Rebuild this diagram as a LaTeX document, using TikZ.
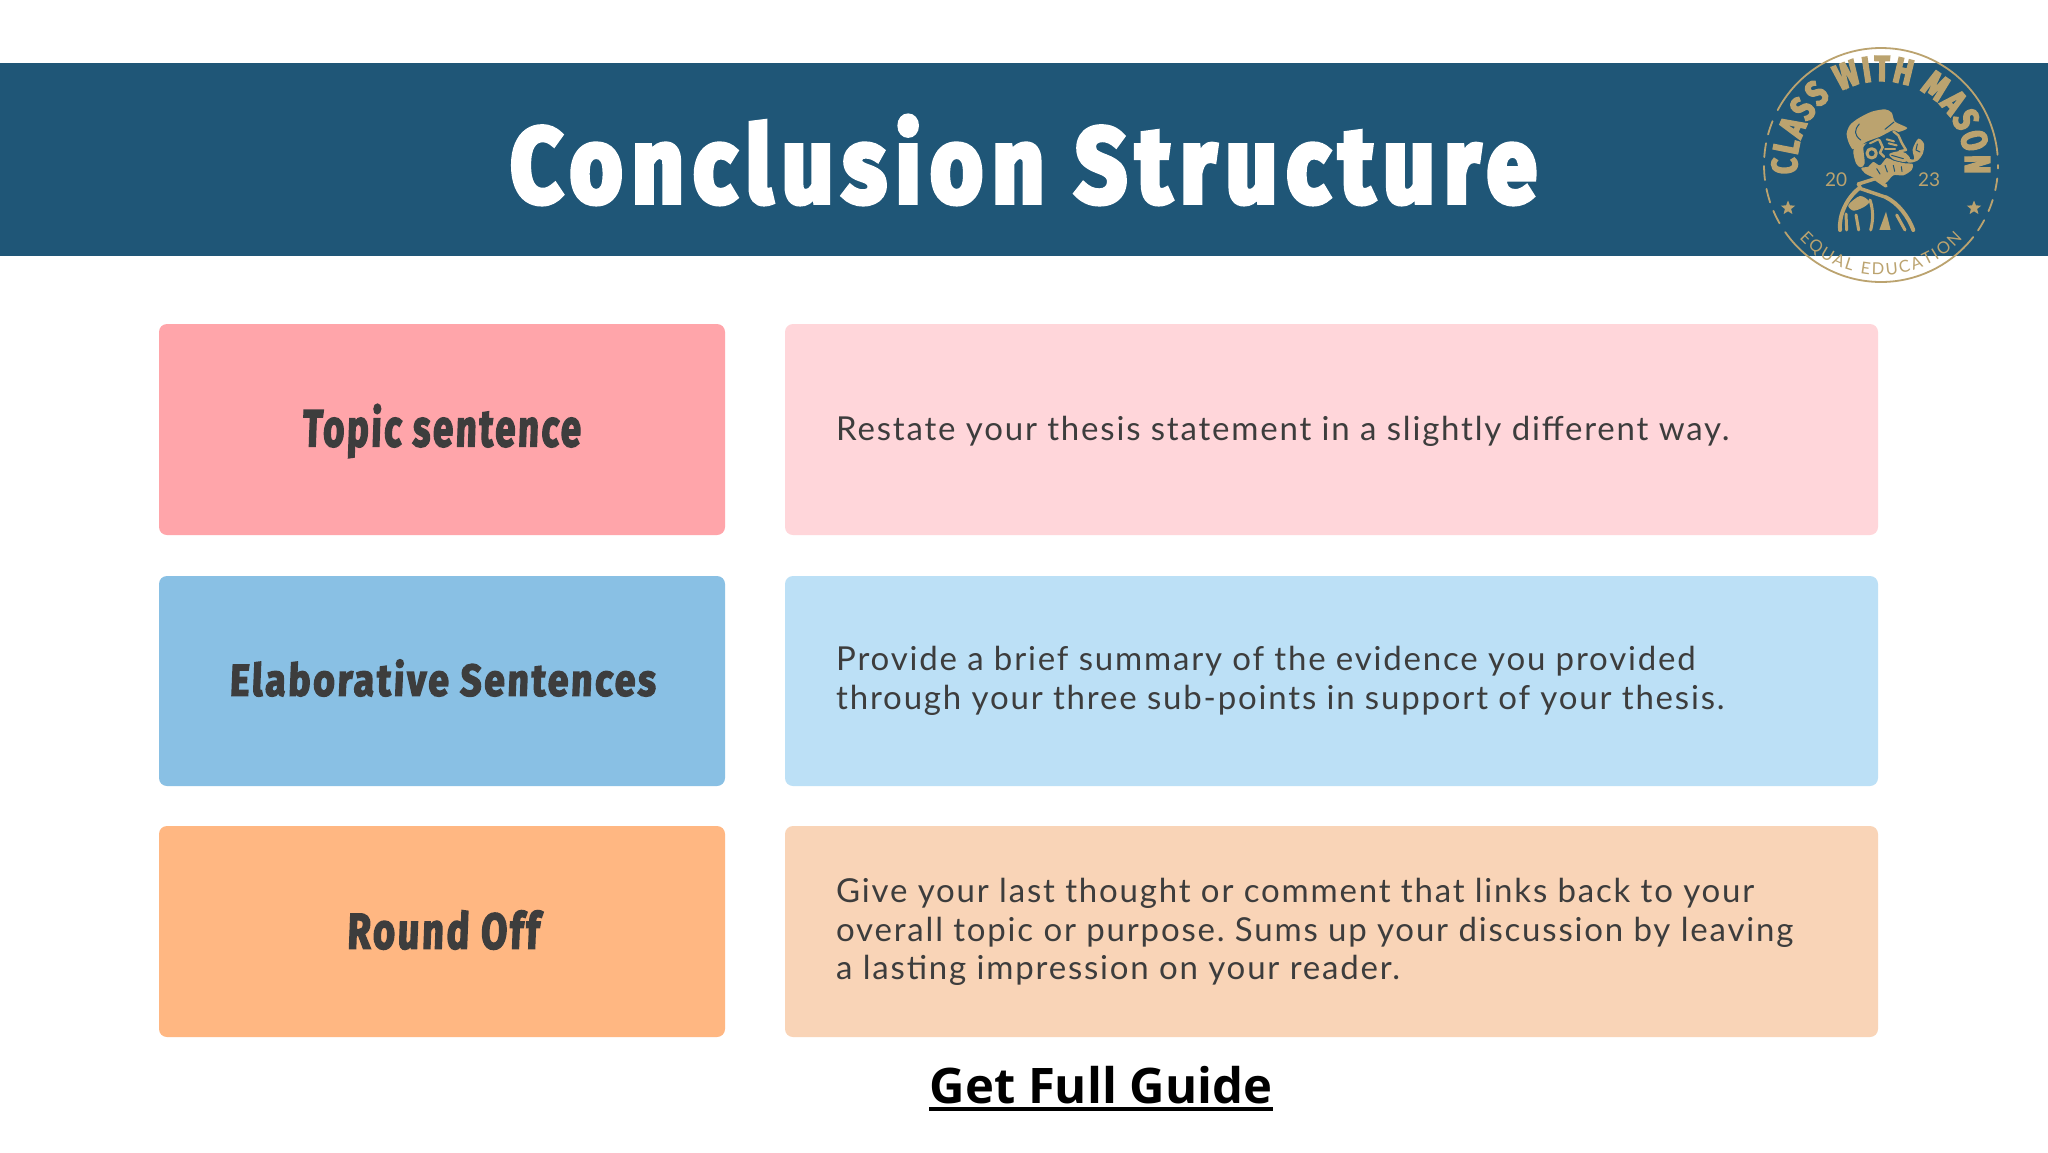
\documentclass[tikz,border=0pt]{standalone}
\usepackage{fontspec}
\usetikzlibrary{decorations.text,shapes.geometric}
\newfontfamily\bodyfont[LetterSpace=5.5]{Lato}
\newfontfamily\chunkyfont[FakeBold=3.5,FakeSlant=0.05,LetterSpace=7]{Fira Sans Bold}
\newfontfamily\titlefont[FakeBold=5,LetterSpace=10]{Fira Sans Bold}
\newfontfamily\guidefont{Open Sans Bold}
\newfontfamily\logofont[FakeBold=4,FakeStretch=0.78]{Fira Sans Bold}
\newfontfamily\logothin{Lato}
\definecolor{banner}{HTML}{1F5677}
\definecolor{gold}{HTML}{BBA36F}
\definecolor{inkdark}{HTML}{3D3D3D}
\definecolor{pinkA}{HTML}{FFA5AA}
\definecolor{pinkB}{HTML}{FFD6DA}
\definecolor{blueA}{HTML}{89C0E4}
\definecolor{blueB}{HTML}{BCE0F6}
\definecolor{orangeA}{HTML}{FFB782}
\definecolor{orangeB}{HTML}{F9D4B7}
\tikzset{
  card/.style={anchor=north west,rounded corners=8pt,inner sep=0pt,outer sep=0pt,draw=none},
  labeltext/.style={inner sep=0pt,text=inkdark},
  bodytext/.style={inner sep=0pt,anchor=west,align=left,text=inkdark,font=\bodyfont\fontsize{33}{38.5}\selectfont\frenchspacing},
  goldline/.style={draw=gold,line width=1.8pt,line cap=round},
  manfill/.style={fill=gold,draw=none},
  manline/.style={draw=gold,line width=1.3pt,line cap=round,line join=round},
  mancut/.style={draw=banner,line width=1pt,line cap=round,line join=round}
}
\begin{document}
\begin{tikzpicture}[x=1pt,y=-1pt]
\useasboundingbox (0,0) rectangle (2048,1152);
\fill[white] (0,0) rectangle (2048,1152);
\node[anchor=north west,fill=banner,minimum width=2048pt,minimum height=193pt,inner sep=0pt,outer sep=0pt] (bar) at (0,63) {};
\node[text=white,inner sep=0pt] (title) at (1023.5,160) {\resizebox{1026pt}{86pt}{\titlefont Conclusion Structure}};

\node[card,fill=pinkA,minimum width=566pt,minimum height=211pt] (boxA) at (159,324) {};
\node[card,fill=blueA,minimum width=566pt,minimum height=210pt] (boxB) at (159,576) {};
\node[card,fill=orangeA,minimum width=566pt,minimum height=211pt] (boxC) at (159,826) {};
\node[card,fill=pinkB,minimum width=1093pt,minimum height=211pt] (descA) at (785,324) {};
\node[card,fill=blueB,minimum width=1093pt,minimum height=210pt] (descB) at (785,576) {};
\node[card,fill=orangeB,minimum width=1093pt,minimum height=211pt] (descC) at (785,826) {};

\node[labeltext] (labA) at (441.5,431) {\resizebox{278pt}{42pt}{\chunkyfont Topic sentence}};
\node[labeltext] (labB) at (442.5,678) {\resizebox{426pt}{36pt}{\chunkyfont Elaborative Sentences}};
\node[labeltext] (labC) at (443,930) {\resizebox{192pt}{38pt}{\chunkyfont Round Off}};

\node[bodytext] (txtA) at (836,431) {Restate your thesis statement in a slightly different way.};
\node[bodytext] (txtB) at (836,681) {Provide a brief summary of the evidence you provided\\through your three sub-points in support of your thesis.};
\node[bodytext] (txtC) at (836,932) {Give your last thought or comment that links back to your\\overall topic or purpose. Sums up your discussion by leaving\\a lasting impression on your reader.};

\node[inner sep=0pt,text=black,anchor=base] (guide) at (1101,1103) {\guidefont\fontsize{49}{55}\selectfont Get Full Guide};
\fill[black] (929,1107) rectangle (1273,1111);

% badge
\begin{scope}[shift={(1881,165)},y=1pt]
  \draw[goldline] (5:117) arc[start angle=5,end angle=152,radius=117];
  \draw[goldline] (215:117) arc[start angle=215,end angle=322,radius=117];
  \draw[goldline,dash pattern=on 14pt off 9pt] (158:117) arc[start angle=158,end angle=212,radius=117];
  \draw[goldline,dash pattern=on 12pt off 10pt] (326:117) arc[start angle=326,end angle=360,radius=117];
  \path[decorate,decoration={text along path,text align=fit to path,
    text={|\logofont\fontsize{36}{36}\selectfont\color{gold}|CLASS WITH MASON}}]
    (186:84) arc[start angle=186,end angle=-6,radius=84];
  \path[decorate,decoration={text along path,text align=fit to path,
    text={|\logothin\fontsize{16.5}{16.5}\selectfont\color{gold}|EQUAL EDUCATION}}]
    (222:110) arc[start angle=222,end angle=318,radius=110];
  \node[star,star points=5,star point ratio=2.3,fill=gold,minimum size=15pt,inner sep=0pt] (starL) at (-93,-43) {};
  \node[star,star points=5,star point ratio=2.3,fill=gold,minimum size=15pt,inner sep=0pt] (starR) at (93,-43) {};
  \node[text=gold,inner sep=0pt,font=\logothin\fontsize{19}{19}\selectfont] (yrA) at (-45,-15) {20};
  \node[text=gold,inner sep=0pt,font=\logothin\fontsize{19}{19}\selectfont] (yrB) at (48,-15) {23};
\end{scope}

% man in profile
\begin{scope}[shift={(1830,90)},x=0.3333pt,y=-0.3333pt]
  \fill[manfill] plot[smooth cycle,tension=0.45] coordinates {(50,130)(60,105)(85,85)(125,65)(165,58)(185,68)(195,95)(232,114)(205,126)(190,120)(150,140)(110,155)(85,172)(68,178)(55,155)};
  \draw[mancut] (88,102) .. controls (72,120) and (72,135) .. (92,150);
  \draw[mancut] (192,96) -- (165,118);
  % head and face
  \fill[manfill] plot[smooth cycle,tension=0.5] coordinates {(70,182)(90,166)(110,160)(100,172)(104,220)(92,232)(78,220)};
  \draw[manline,line width=2.4pt] (190,124) -- (205,136) -- (216,160) -- (228,180) -- (208,184);
  \draw[manline,line width=3pt] (125,190) circle[radius=14];
  \draw[manline,line width=2.5pt] (148,150) -- (158,172) -- (150,188) -- (162,200);
  \draw[manline,line width=2pt] (120,160) -- (145,148);
  \draw[manline,line width=2pt] (170,148) -- (192,154);
  \draw[manline,line width=2pt] (176,160) -- (200,166);
  \draw[manline,line width=2pt] (165,178) -- (195,178);
  \fill[manfill] plot[smooth cycle,tension=0.5] coordinates {(178,192)(205,184)(228,190)(240,206)(224,216)(190,208)};
  \fill[manfill] plot[smooth cycle,tension=0.5] coordinates {(130,216)(150,226)(170,204)(190,212)(225,220)(248,222)(245,240)(220,256)(190,256)(165,280)(135,265)(105,250)(94,234)(115,230)};
  \draw[mancut] (140,236) -- (150,252);
  \draw[mancut] (165,226) -- (172,246);
  \draw[mancut] (190,226) -- (194,244);
  \draw[mancut] (214,230) -- (216,244);
  \draw[mancut] (185,196) -- (220,206);
  % pipe
  \fill[manfill] plot[smooth cycle,tension=0.5] coordinates {(226,204)(252,208)(248,178)(265,146)(282,162)(278,192)(262,212)(236,218)};
  \draw[mancut] (262,162) -- (258,180) -- (270,186);
  % body
  \draw[manline,line width=3.5pt] (85,282) -- (136,266) -- (168,288);
  \draw[manline,line width=3.5pt] (85,282) -- (92,296) -- (168,322);
  \draw[manline,line width=4pt] (30,420) .. controls (26,375) and (50,325) .. (86,296);
  \draw[manline,line width=4pt] (168,322) .. controls (205,340) and (235,380) .. (250,420);
  \fill[manfill] plot[smooth cycle,tension=0.5] coordinates {(55,345)(90,318)(118,335)(100,352)(70,362)};
  \draw[manline,line width=3pt] (78,375) -- (86,420);
  \draw[manline,line width=3pt] (120,330) .. controls (130,360) and (130,390) .. (122,420);
  \fill[manfill] (148,420) -- (168,365) -- (182,420) -- cycle;
  \draw[manline,line width=3pt] (200,375) -- (225,420);
  \draw[manline,line width=3pt] (48,372) -- (50,420);
\end{scope}
\end{tikzpicture}
\end{document}
